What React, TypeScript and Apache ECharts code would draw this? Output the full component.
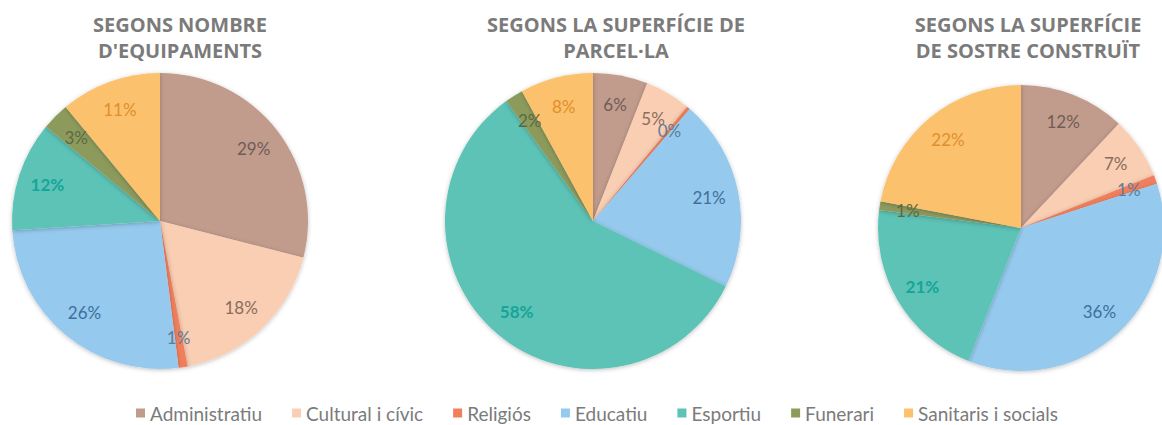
import React, { useEffect, useRef } from "react";
import * as echarts from "echarts";

const categories = ["Administratiu", "Cultural i cívic", "Religiós", "Educatiu", "Esportiu", "Funerari", "Sanitaris i socials"];
const colors = ["#C19B8C", "#F9CEB2", "#EF7F5D", "#95C9EE", "#5CC3B6", "#8C9B5C", "#FBC16D"];
const labelColors = ["#6f5c58", "#8a6c5e", "#5f7d98", "#3f6f9c", "#16a598", "#5d6844", "#e18f2b"];

const titles = ["SEGONS NOMBRE\nD'EQUIPAMENTS", "SEGONS LA SUPERFÍCIE DE\nPARCEL·LA", "SEGONS LA SUPERFÍCIE\nDE SOSTRE CONSTRUÏT"];
const nombreEquipaments = [29, 18, 1, 26, 12, 3, 11];
const superficieParcela = [6, 5, 0.4, 21, 58, 2, 8];
const superficieSostre = [12, 7, 1, 36, 21, 1, 22];

const pies = [
  { values: nombreEquipaments, cx: 160, cy: 221, r: 148, tx: 175 },
  { values: superficieParcela, cx: 593, cy: 221, r: 148, tx: 611 },
  { values: superficieSostre, cx: 1021, cy: 228, r: 143, tx: 1023 },
];

export default function App() {
  const ref = useRef<HTMLDivElement>(null);
  useEffect(() => {
    if (!ref.current) return;
    const chart = echarts.init(ref.current, undefined, { renderer: "svg" });
    const series: any[] = [];
    pies.forEach((p) => {
      series.push({
        type: "pie",
        center: [p.cx, p.cy],
        radius: [0, p.r],
        startAngle: 90,
        clockwise: true,
        silent: true,
        label: { show: false },
        labelLine: { show: false },
        itemStyle: { shadowBlur: 4, shadowColor: "rgba(0,0,0,0.25)", shadowOffsetY: 1 },
        data: categories.map((c, i) => ({ name: c, value: p.values[i], itemStyle: { color: colors[i] } })),
      });
      series.push({
        type: "pie",
        center: [p.cx, p.cy],
        radius: [p.r * 0.56, p.r],
        startAngle: 90,
        clockwise: true,
        silent: true,
        avoidLabelOverlap: false,
        minShowLabelAngle: 0,
        labelLayout: { hideOverlap: false },
        labelLine: { show: false },
        itemStyle: { color: "rgba(0,0,0,0)" },
        label: {
          show: true,
          position: "inside",
          fontFamily: "Lato",
          fontSize: 17,
          formatter: (prm: any) => Math.round(prm.value) + "%",
        },
        data: categories.map((c, i) => ({
          name: c,
          value: p.values[i],
          label: { color: labelColors[i], fontWeight: i === 4 ? "bold" : "normal" },
        })),
      });
    });
    chart.setOption({
      animation: false,
      backgroundColor: "#ffffff",
      title: pies.map((p, i) => ({
        text: titles[i],
        left: p.tx,
        top: 6,
        textAlign: "center",
        textStyle: { fontFamily: "Open Sans", fontWeight: "bold", fontSize: 20, color: "#7b7b7b", lineHeight: 26 },
      })),
      legend: {
        top: 398,
        left: 131,
        itemWidth: 9,
        itemHeight: 9,
        itemGap: 30,
        icon: "rect",
        textStyle: { fontFamily: "Lato", fontSize: 19, color: "#7b7b7b", lineHeight: 20 },
        data: categories.map((c, i) => ({ name: c, itemStyle: { color: colors[i] } })),
      },
      series,
    });
    return () => chart.dispose();
  }, []);
  return <div ref={ref} style={{ position: "fixed", left: 0, top: 0, width: 1162, height: 425 }} />;
}
